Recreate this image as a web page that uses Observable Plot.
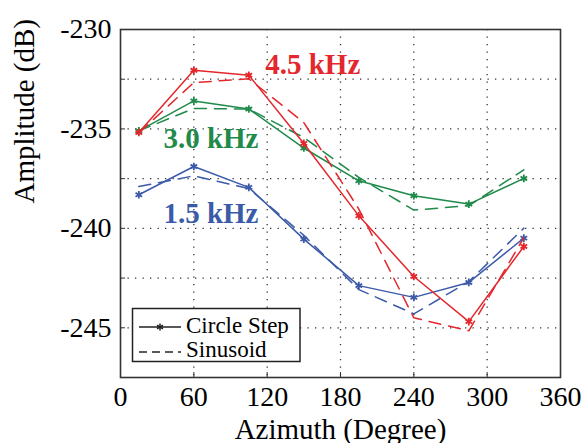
<!DOCTYPE html>
<html><head><meta charset="utf-8">
<script src="https://cdn.jsdelivr.net/npm/d3@7"></script>
<script src="https://cdn.jsdelivr.net/npm/@observablehq/plot@0.6"></script>
<style>
body{margin:0;background:#fff;}
#wrap{position:relative;width:587px;height:443px;font-family:"Liberation Serif","Times New Roman",serif;}
#legend{position:absolute;left:0;top:0;pointer-events:none;}
</style></head><body><div id="wrap"></div>
<script>
// Data
const azimuth = [15, 60, 105, 150, 195, 240, 285, 330];
const step45 = [-235.18, -232.05, -232.30, -235.73, -239.37, -242.42, -244.69, -240.91];
const sin45  = [-235.20, -232.67, -232.48, -234.68, -239.03, -244.50, -245.15, -240.47];
const step30 = [-235.10, -233.59, -234.00, -235.96, -237.61, -238.36, -238.78, -237.49];
const sin30  = [-235.10, -233.97, -234.00, -235.43, -237.44, -239.08, -238.86, -237.06];
const step15 = [-238.31, -236.89, -237.94, -240.54, -242.88, -243.47, -242.72, -240.49];
const sin15  = [-237.90, -237.36, -238.00, -240.35, -243.08, -244.30, -242.68, -239.99];
const freqLabels = ["4.5 kHz", "3.0 kHz", "1.5 kHz"];
const colors = ["#e3272c", "#1f8a4a", "#3b5aa8"];
const xTicks = [0, 60, 120, 180, 240, 300, 360];
const xGrid = [60, 120, 180, 240, 300];
const yTicks = [-230, -235, -240, -245];
const yGrid = [-232.5, -235, -237.5, -240, -242.5, -245];
const yMinor = [-232.5, -237.5, -242.5];
const legendLabels = ["Circle Step", "Sinusoid"];

const stepSeries = [step45, step30, step15];
const sinSeries = [sin45, sin30, sin15];
const toRows = (vals) => azimuth.map((a, i) => ({az: a, amp: vals[i]}));

const font = "Liberation Serif, Times New Roman, serif";
const marks = [
  Plot.gridX(xGrid, {stroke: "#333", strokeOpacity: 1, strokeWidth: 1.3, strokeDasharray: "1.3,6.2"}),
  Plot.gridY(yGrid, {stroke: "#333", strokeOpacity: 1, strokeWidth: 1.3, strokeDasharray: "1.3,6.2"}),
  Plot.axisX(xTicks, {tickSize: 0, tickPadding: 9, fontSize: 28, label: null}),
  Plot.axisX(xGrid, {tickSize: 5, text: null, dy: -5, label: null, stroke: "#333"}),
  Plot.axisY(yTicks, {tickSize: 0, tickPadding: 9, fontSize: 28, label: null, tickFormat: d => String(d)}),
  Plot.axisY([...yTicks.slice(1), ...yMinor], {tickSize: 5, text: null, dx: 5, label: null, stroke: "#333"}),
  Plot.frame({stroke: "#333", strokeWidth: 1.6})
];
// series lines
[2, 1, 0].forEach(k => {
  marks.push(Plot.line(toRows(sinSeries[k]), {x: "az", y: "amp", stroke: colors[k], strokeWidth: 1.5, strokeDasharray: "12,8"}));
  marks.push(Plot.line(toRows(stepSeries[k]), {x: "az", y: "amp", stroke: colors[k], strokeWidth: 1.5}));
  marks.push(Plot.dot(toRows(stepSeries[k]), {x: "az", y: "amp", symbol: "asterisk", r: 3.6, stroke: colors[k], strokeWidth: 1.8}));
});
// frequency labels
const labelPos = [[118.4, -232.23], [35.1, -235.98], [35.1, -239.75]];
freqLabels.forEach((t, k) => {
  marks.push(Plot.text([t], {x: labelPos[k][0], y: labelPos[k][1], text: d => d, textAnchor: "start", lineAnchor: "bottom", fontSize: 29, fontWeight: "bold", fill: colors[k]}));
});
// axis titles
marks.push(Plot.text(["Azimuth (Degree)"], {frameAnchor: "bottom", dy: 61, lineAnchor: "bottom", fontSize: 29, text: d => d, fill: "black"}));
marks.push(Plot.text(["Amplitude (dB)"], {frameAnchor: "left", rotate: -90, dx: -87, lineAnchor: "bottom", fontSize: 29, text: d => d, fill: "black"}));

const chart = Plot.plot({
  width: 587, height: 443,
  marginLeft: 120, marginRight: 27, marginTop: 29, marginBottom: 66,
  style: {fontFamily: font, background: "white", color: "black"},
  x: {domain: [0, 360]},
  y: {domain: [-247.5, -230]},
  marks
});
const wrap = document.getElementById("wrap");
wrap.appendChild(chart);

// legend overlay (inside the plot frame, bottom-left)
const ns = "http://www.w3.org/2000/svg";
const lg = document.createElementNS(ns, "svg");
lg.setAttribute("id", "legend");
lg.setAttribute("width", 587);
lg.setAttribute("height", 443);
function el(tag, attrs, text) {
  const e = document.createElementNS(ns, tag);
  for (const k in attrs) e.setAttribute(k, attrs[k]);
  if (text) e.textContent = text;
  lg.appendChild(e);
  return e;
}
el("rect", {x: 132.5, y: 308.5, width: 167.5, height: 53, fill: "white", stroke: "#222", "stroke-width": 1.5});
el("line", {x1: 139, x2: 181, y1: 327, y2: 327, stroke: "#222", "stroke-width": 1.4});
const ax = 160, ay = 327, ar = 3.5;
[0, 60, 120].forEach(a => {
  const r = a * Math.PI / 180;
  el("line", {x1: ax - ar * Math.sin(r), y1: ay - ar * Math.cos(r), x2: ax + ar * Math.sin(r), y2: ay + ar * Math.cos(r), stroke: "#222", "stroke-width": 1.5});
});
el("line", {x1: 139, x2: 181, y1: 352, y2: 352, stroke: "#222", "stroke-width": 1.4, "stroke-dasharray": "8,5"});
el("text", {x: 186, y: 333, "font-size": 23, "font-family": font, fill: "black"}, legendLabels[0]);
el("text", {x: 186, y: 357, "font-size": 23, "font-family": font, fill: "black"}, legendLabels[1]);
wrap.appendChild(lg);
</script></body></html>
